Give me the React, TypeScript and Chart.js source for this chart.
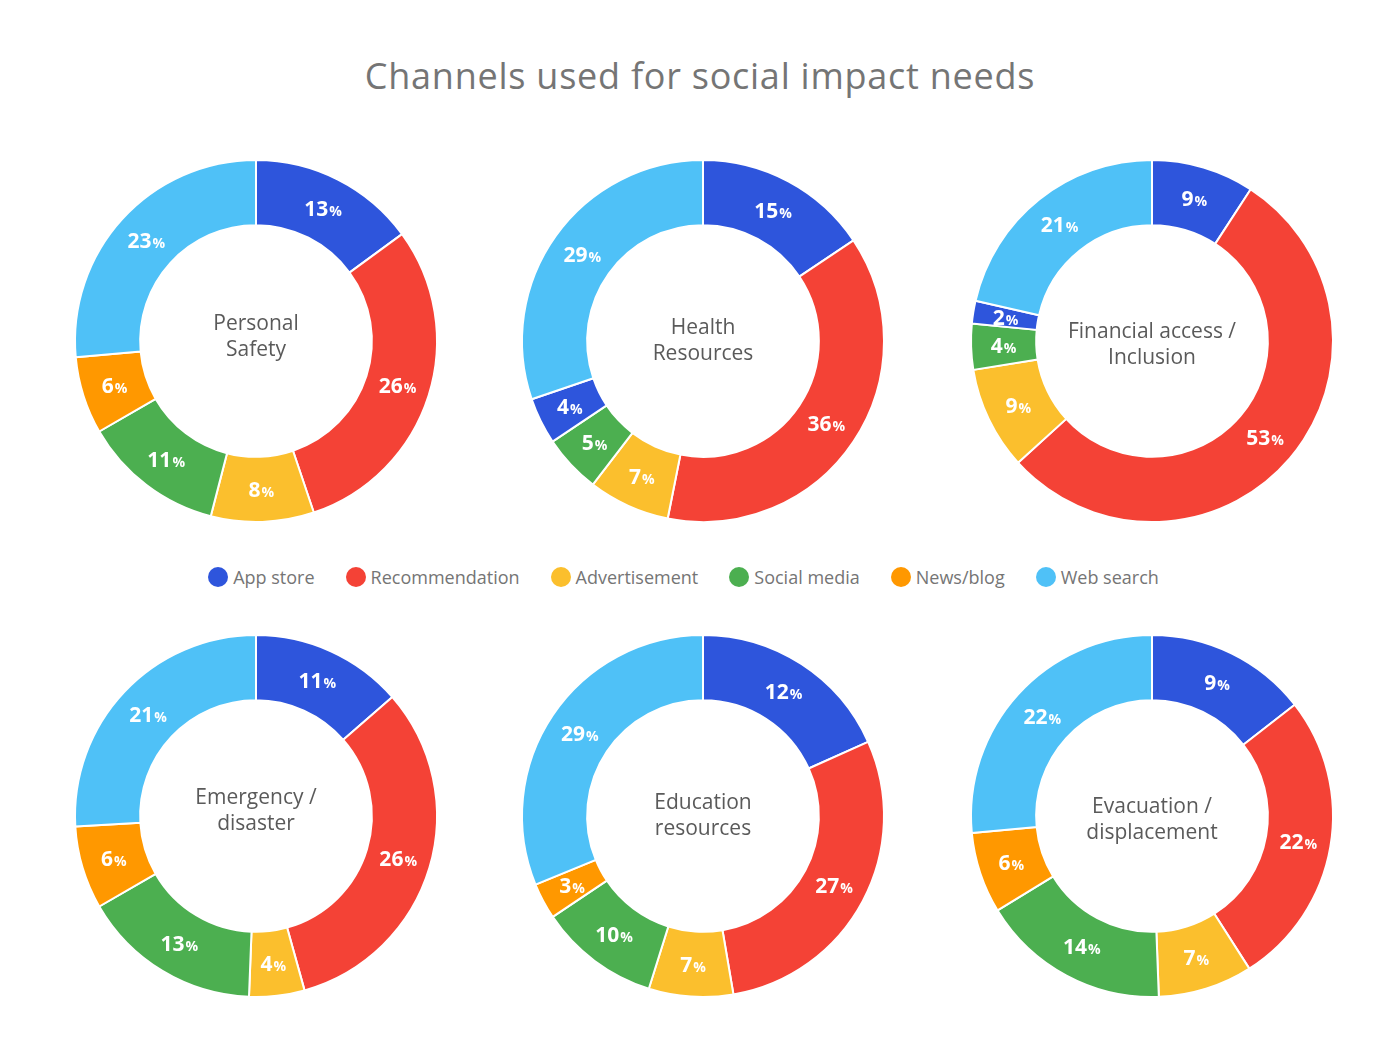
import React, { useEffect, useRef } from "react";
import { Chart, registerables } from "chart.js";

Chart.register(...registerables);

const title = "Channels used for social impact needs";
const channels = ["App store", "Recommendation", "Advertisement", "Social media", "News/blog", "Web search"];
const channelColors = ["#2E55DC", "#F44236", "#FBBF2D", "#4CAF50", "#FF9800", "#4FC1F7"];

const chartNames = [
  ["Personal", "Safety"],
  ["Health", "Resources"],
  ["Financial access /", "Inclusion"],
  ["Emergency /", "disaster"],
  ["Education", "resources"],
  ["Evacuation /", "displacement"],
];

// Printed percentages
const personalSafety = [13, 26, 8, 11, 6, 23];
const healthResources = [15, 36, 7, 5, 4, 29];
const financialAccess = [9, 53, 9, 4, 2, 21];
const emergencyDisaster = [11, 26, 4, 13, 6, 21];
const educationResources = [12, 27, 7, 10, 3, 29];
const evacuationDisplacement = [9, 22, 7, 14, 6, 22];

const labelValues = [personalSafety, healthResources, financialAccess, emergencyDisaster, educationResources, evacuationDisplacement];

// Arc sizes as drawn in the source (the App store arcs of the last two charts are drawn larger than their printed values)
const educationArcs = [17, 27, 7, 10, 3, 29];
const evacuationArcs = [12, 22, 7, 14, 6, 22];

const arcValues = [personalSafety, healthResources, financialAccess, emergencyDisaster, educationArcs, evacuationArcs];

// In the source, the 5th slice of two charts is drawn in the App store blue
const sliceColors = [
  channelColors,
  ["#2E55DC", "#F44236", "#FBBF2D", "#4CAF50", "#2E55DC", "#4FC1F7"],
  ["#2E55DC", "#F44236", "#FBBF2D", "#4CAF50", "#2E55DC", "#4FC1F7"],
  channelColors,
  channelColors,
  channelColors,
];

const centerOffsets = [-4, 0, 4, -5, 0, 4];

const FONT = "'Open Sans', Roboto, sans-serif";

const positions = [
  { left: 56, top: 141 },
  { left: 503, top: 141 },
  { left: 952, top: 141 },
  { left: 56, top: 616 },
  { left: 503, top: 616 },
  { left: 952, top: 616 },
];

const labelPlugin = {
  id: "sliceLabels",
  afterDatasetsDraw(chart: any) {
    const ctx = chart.ctx;
    const meta = chart.getDatasetMeta(0);
    const labels: number[] = chart.options.plugins.sliceLabels.values;
    ctx.save();
    ctx.fillStyle = "#ffffff";
    ctx.textBaseline = "alphabetic";
    ctx.textAlign = "left";
    meta.data.forEach((arc: any, i: number) => {
      const p = arc.getCenterPoint();
      const num = String(labels[i]);
      ctx.font = `bold 21px ${FONT}`;
      const w1 = ctx.measureText(num).width;
      ctx.font = `bold 14px ${FONT}`;
      const w2 = ctx.measureText("%").width;
      const x0 = p.x - (w1 + w2 + 1) / 2;
      const by = p.y + 7.5;
      ctx.font = `bold 21px ${FONT}`;
      ctx.fillText(num, x0, by);
      ctx.font = `bold 14px ${FONT}`;
      ctx.fillText("%", x0 + w1 + 1, by);
    });
    ctx.restore();
  },
};

const centerPlugin = {
  id: "centerText",
  afterDraw(chart: any) {
    const opts = chart.options.plugins.centerText;
    if (!opts) return;
    const ctx = chart.ctx;
    const { left, right, top, bottom } = chart.chartArea;
    const cx = (left + right) / 2;
    const cy = (top + bottom) / 2 + opts.offset;
    ctx.save();
    ctx.fillStyle = "#5a5a5a";
    ctx.font = `21px ${FONT}`;
    ctx.textAlign = "center";
    ctx.textBaseline = "middle";
    const lines: string[] = opts.lines;
    const lh = 26;
    lines.forEach((ln, i) => {
      ctx.fillText(ln, cx, cy + (i - (lines.length - 1) / 2) * lh);
    });
    ctx.restore();
  },
};

function Donut({ idx }: { idx: number }) {
  const ref = useRef<HTMLCanvasElement>(null);
  useEffect(() => {
    if (!ref.current) return;
    const chart = new Chart(ref.current, {
      type: "doughnut",
      data: {
        labels: channels,
        datasets: [
          {
            data: arcValues[idx],
            backgroundColor: sliceColors[idx],
            borderColor: "#ffffff",
            borderWidth: 2,
          },
        ],
      },
      options: {
        animation: false,
        responsive: false,
        radius: 181,
        cutout: "64%",
        layout: { padding: 0 },
        plugins: {
          legend: { display: false },
          tooltip: { enabled: false },
          sliceLabels: { values: labelValues[idx] },
          centerText: { lines: chartNames[idx], offset: centerOffsets[idx] },
        } as any,
      } as any,
      plugins: [labelPlugin, centerPlugin],
    });
    return () => chart.destroy();
  }, [idx]);
  const pos = positions[idx];
  return (
    <canvas
      ref={ref}
      width={400}
      height={400}
      style={{ position: "absolute", left: pos.left, top: pos.top, width: 400, height: 400 }}
    />
  );
}

export default function App() {
  return (
    <div
      style={{
        position: "absolute",
        left: 0,
        top: 0,
        width: 1400,
        height: 1050,
        background: "#ffffff",
        fontFamily: FONT,
        overflow: "hidden",
      }}
    >
      <div
        style={{
          position: "absolute",
          left: 0,
          width: 1400,
          top: 53,
          textAlign: "center",
          fontSize: 36,
          letterSpacing: "0.75px",
          lineHeight: "46px",
          color: "#757575",
        }}
      >
        {title}
      </div>
      {labelValues.map((_, i) => (
        <Donut key={i} idx={i} />
      ))}
      <div
        style={{
          position: "absolute",
          left: 0,
          width: 1367,
          top: 565,
          height: 24,
          display: "flex",
          justifyContent: "center",
          alignItems: "center",
          gap: 31,
          fontSize: 18,
          color: "#757575",
        }}
      >
        {channels.map((c, i) => (
          <div key={c} style={{ display: "flex", alignItems: "center", gap: 5 }}>
            <span
              style={{
                width: 20,
                height: 20,
                borderRadius: 10,
                background: channelColors[i],
                display: "inline-block",
              }}
            />
            <span>{c}</span>
          </div>
        ))}
      </div>
    </div>
  );
}
